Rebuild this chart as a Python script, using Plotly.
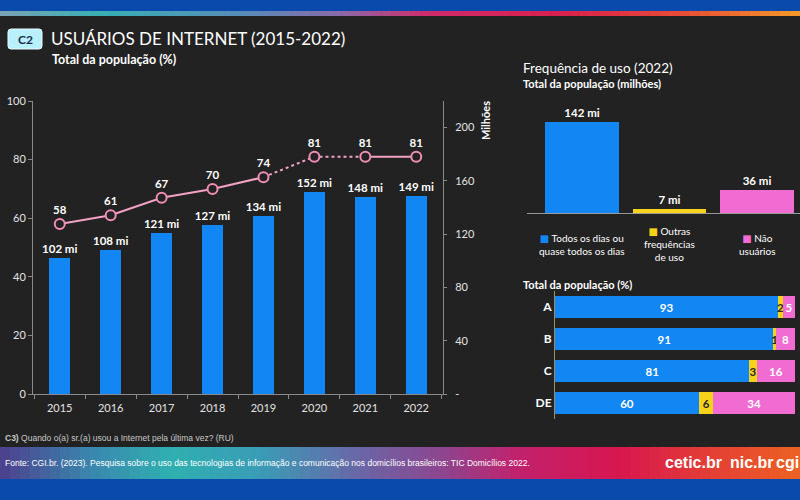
import plotly.graph_objects as go

# ---------------- data ----------------
years = ["2015", "2016", "2017", "2018", "2019", "2020", "2021", "2022"]
pct_users = [58, 61, 67, 70, 74, 81, 81, 81]          # % of population (left axis)
mi_users = [102, 108, 121, 127, 134, 152, 148, 149]   # millions (right axis)

freq_cats = ["Todos os dias ou quase todos os dias", "Outras frequências de uso", "Não usuários"]
freq_labels = ["Todos os dias ou<br>quase todos os dias", "Outras<br>frequências<br>de uso", "Não<br>usuários"]
freq_vals = [142, 7, 36]

classes = ["A", "B", "C", "DE"]
daily = [93, 91, 81, 60]
other = [2, 1, 3, 6]
non_users = [5, 8, 16, 34]

right_ticks = [0, 40, 80, 120, 160, 200]
right_ticktext = ["-", "40", "80", "120", "160", "200"]

# ---------------- style ----------------
W, H = 800, 500
BG = "#222222"
BLUE = "#1287f3"
YELLOW = "#f6d21a"
PINK = "#f06cd3"
LINE_PINK = "#f2a2c4"
AXIS = "#8a8a8a"
FONT = "Lato, Open Sans, Noto Sans, DejaVu Sans"
NARROW = "Liberation Sans, Arial, DejaVu Sans"


def fx(p):
    return p / W


def fy(p):
    return 1 - p / H


fig = go.Figure()

# ---- main chart: bars (millions, right axis y) ----
fig.add_trace(go.Bar(
    x=years, y=mi_users, xaxis="x", yaxis="y",
    marker=dict(color=BLUE, line=dict(width=0)), width=0.41,
    text=[f"{v} mi" for v in mi_users], textposition="outside", constraintext="none",
    textangle=0,
    textfont=dict(color="white", size=11.5, family=FONT, weight=700),
    cliponaxis=False, showlegend=False, hoverinfo="skip",
))

# ---- main chart: line (%, left axis y2) ----
seg_solid1 = slice(0, 5)
seg_dot = slice(4, 7)
seg_solid2 = slice(6, 8)
for sl, dash in [(seg_solid1, "solid"), (seg_dot, "dot"), (seg_solid2, "solid")]:
    fig.add_trace(go.Scatter(
        x=years[sl], y=pct_users[sl], xaxis="x", yaxis="y2", mode="lines",
        line=dict(color=LINE_PINK, width=2, dash=dash),
        showlegend=False, hoverinfo="skip",
    ))
fig.add_trace(go.Scatter(
    x=years, y=pct_users, xaxis="x", yaxis="y2", mode="markers+text",
    marker=dict(symbol="circle", size=10, color=BG, line=dict(color="#f08fb6", width=2)),
    text=[str(v) for v in pct_users], textposition="top center",
    textfont=dict(color="white", size=11.5, family=FONT, weight=700),
    cliponaxis=False, showlegend=False, hoverinfo="skip",
))

# ---- top right: frequency bars ----
fig.add_trace(go.Bar(
    x=freq_cats, y=freq_vals, xaxis="x3", yaxis="y3", width=0.84,
    marker=dict(color=[BLUE, YELLOW, PINK], line=dict(width=0)),
    text=[f"{v} mi" for v in freq_vals], textposition="outside", constraintext="none",
    textangle=0,
    textfont=dict(color="white", size=11.5, family=FONT, weight=700),
    cliponaxis=False, showlegend=False, hoverinfo="skip",
))

# ---- bottom right: stacked horizontal bars ----
for vals, col, tcol in [(daily, BLUE, "white"), (other, YELLOW, "#2a2a2a"), (non_users, PINK, "white")]:
    fig.add_trace(go.Bar(
        x=vals, y=classes, orientation="h", xaxis="x4", yaxis="y4", width=0.66,
        marker=dict(color=col, line=dict(width=0)),
        text=[str(v) for v in vals], textposition="inside", insidetextanchor="middle",
        constraintext="none", textangle=0,
        textfont=dict(color=tcol, size=11.5, family=FONT, weight=700),
        showlegend=False, hoverinfo="skip",
    ))

# ---------------- shapes (background bands) ----------------
shapes = []


def lerp_color(stops, p):
    for i in range(len(stops) - 1):
        x0, c0 = stops[i]
        x1, c1 = stops[i + 1]
        if x0 <= p <= x1:
            t = (p - x0) / (x1 - x0) if x1 > x0 else 0
            a = [int(c0[j:j + 2], 16) for j in (1, 3, 5)]
            b = [int(c1[j:j + 2], 16) for j in (1, 3, 5)]
            return "rgb(%d,%d,%d)" % tuple(round(a[k] + (b[k] - a[k]) * t) for k in range(3))
    return stops[-1][1]


foot_stops = [(0, "#4d3f8c"), (90, "#3a86ae"), (170, "#2fb0b0"), (260, "#3a9cb6"),
              (360, "#6a66a6"), (440, "#8c4690"), (520, "#c2216c"), (620, "#d8164f"),
              (700, "#e23a38"), (800, "#ee6222")]
top_stops = [(0, "#7aa2b4"), (100, "#38b0b4"), (250, "#5a8ab8"), (340, "#8a6aa8"),
             (430, "#d02a6a"), (560, "#d8204e"), (680, "#e84a36"), (800, "#f39a2a")]

N = 80
for i in range(N):
    x0 = W * i / N
    x1 = W * (i + 1) / N
    xm = (x0 + x1) / 2
    shapes.append(dict(type="rect", xref="paper", yref="paper", layer="below",
                       x0=fx(x0), x1=fx(x1) + 0.001, y0=fy(479), y1=fy(447),
                       fillcolor=lerp_color(foot_stops, xm), line=dict(width=0)))
    shapes.append(dict(type="rect", xref="paper", yref="paper", layer="below",
                       x0=fx(x0), x1=fx(x1) + 0.001, y0=fy(16), y1=fy(11),
                       fillcolor=lerp_color(top_stops, xm), line=dict(width=0)))

shapes.append(dict(type="rect", xref="paper", yref="paper", layer="below",
                   x0=0, x1=1, y0=fy(11), y1=1, fillcolor="#0b4aad", line=dict(width=0)))
shapes.append(dict(type="rect", xref="paper", yref="paper", layer="below",
                   x0=0, x1=1, y0=0, y1=fy(479), fillcolor="#0b4aad", line=dict(width=0)))

# C2 badge (rounded)
bx0, bx1, by0, by1, r = 8, 42, 29, 49, 3
path = (f"M {fx(bx0 + r)},{fy(by0)} L {fx(bx1 - r)},{fy(by0)} Q {fx(bx1)},{fy(by0)} {fx(bx1)},{fy(by0 + r)} "
        f"L {fx(bx1)},{fy(by1 - r)} Q {fx(bx1)},{fy(by1)} {fx(bx1 - r)},{fy(by1)} "
        f"L {fx(bx0 + r)},{fy(by1)} Q {fx(bx0)},{fy(by1)} {fx(bx0)},{fy(by1 - r)} "
        f"L {fx(bx0)},{fy(by0 + r)} Q {fx(bx0)},{fy(by0)} {fx(bx0 + r)},{fy(by0)} Z")
shapes.append(dict(type="path", xref="paper", yref="paper", path=path,
                   fillcolor="#b8f0fb", line=dict(color="#e8fbff", width=1)))

# ---------------- annotations ----------------
ann = []


def txt(x, y, s, size=11, color="white", xanchor="left", yanchor="middle", family=FONT, weight=None, angle=0):
    f = dict(size=size, color=color, family=family)
    if weight:
        f["weight"] = weight
    ann.append(dict(x=fx(x), y=fy(y), xref="paper", yref="paper", text=s, showarrow=False,
                    xanchor=xanchor, yanchor=yanchor, font=f, textangle=angle))


txt(25, 39.5, "C2", size=12, color="#1b2b4f", xanchor="center", weight=700)
txt(49, 39, "USUÁRIOS DE INTERNET (2015-2022)", size=17)
txt(50, 59, "Total da população (%)", size=12.5, weight=700)
txt(485, 120, "Milhões", size=11, weight=700, angle=-90, xanchor="center")

txt(521, 68, "Frequência de uso (2022)", size=13.5)
txt(521, 83, "Total da população (milhões)", size=11, weight=700)
txt(521, 284, "Total da população (%)", size=11, weight=700)

sq_colors = [BLUE, YELLOW, PINK]
for i, lab in enumerate(freq_labels):
    first, *rest = lab.split("<br>")
    s = f"<span style='color:{sq_colors[i]}'>■</span> {first}" + "".join("<br>" + r_ for r_ in rest)
    ann.append(dict(x=freq_cats[i], y=fy(244), xref="x3", yref="paper", text=s, showarrow=False,
                    xanchor="center", yanchor="middle", align="center",
                    font=dict(size=10, color="white", family=FONT)))

txt(3, 438, "<b>C3)</b> Quando o(a) sr.(a) usou a Internet pela última vez? (RU)",
    size=8.5, color="#c8c8c8", family=NARROW)
txt(3, 463, "Fonte: CGI.br. (2023). Pesquisa sobre o uso das tecnologias de informação e comunicação "
            "nos domicílios brasileiros: TIC Domicílios 2022.", size=8.5, color="white", family=NARROW)
txt(663, 462, "cetic.br", size=16, family=NARROW, weight=700)
txt(728, 462, "nic.br", size=16, family=NARROW, weight=700)
txt(774, 462, "cgi", size=16, family=NARROW, weight=700)

# ---------------- layout ----------------
tickfont = dict(size=11, color="#e2e2e2", family=FONT)
fig.update_layout(
    width=W, height=H, margin=dict(l=0, r=0, t=0, b=0, pad=0, autoexpand=False),
    paper_bgcolor=BG, plot_bgcolor="rgba(0,0,0,0)",
    barmode="stack", showlegend=False,
    font=dict(family=FONT, color="white"),
    shapes=shapes, annotations=ann,
    xaxis=dict(domain=[fx(33), fx(443)], anchor="y", type="category", automargin=False,
               showline=True, linecolor=AXIS, linewidth=1, ticks="outside", tickson="boundaries",
               ticklen=4, tickcolor=AXIS, tickfont=tickfont, showgrid=False, zeroline=False,
               ticklabelstandoff=4, fixedrange=True),
    yaxis=dict(domain=[fy(394), fy(101)], anchor="x", side="right", range=[0, 220], automargin=False,
               tickvals=right_ticks, ticktext=right_ticktext, ticklabelstandoff=6,
               showline=True, linecolor=AXIS, ticks="outside", ticklen=3, tickcolor=AXIS,
               tickfont=tickfont, showgrid=False, zeroline=False),
    yaxis2=dict(overlaying="y", anchor="x", side="left", range=[0, 100], dtick=20, automargin=False,
                showline=True, linecolor=AXIS, ticks="outside", ticklen=4, tickcolor=AXIS,
                tickfont=tickfont, showgrid=False, zeroline=False),
    xaxis3=dict(domain=[fx(527), 1.0], anchor="y3", type="category", range=[-0.629, 2.491],
                automargin=False,
                showline=True, linecolor="#9a9a9a", showticklabels=False, ticks="",
                showgrid=False, zeroline=False),
    yaxis3=dict(domain=[fy(213), fy(100)], anchor="x3", range=[0, 142 * 113 / 91],
                visible=False, automargin=False),
    xaxis4=dict(domain=[fx(555), fx(795)], anchor="y4", range=[0, 100], visible=False,
                automargin=False),
    yaxis4=dict(domain=[fy(419), fy(291)], anchor="x4", type="category", autorange="reversed",
                automargin=False,
                showline=True, linecolor="#a08c5e", ticks="", showgrid=False, zeroline=False,
                tickfont=dict(size=12, color="white", family=FONT, weight=700)),
)

fig.write_html("out.html")
